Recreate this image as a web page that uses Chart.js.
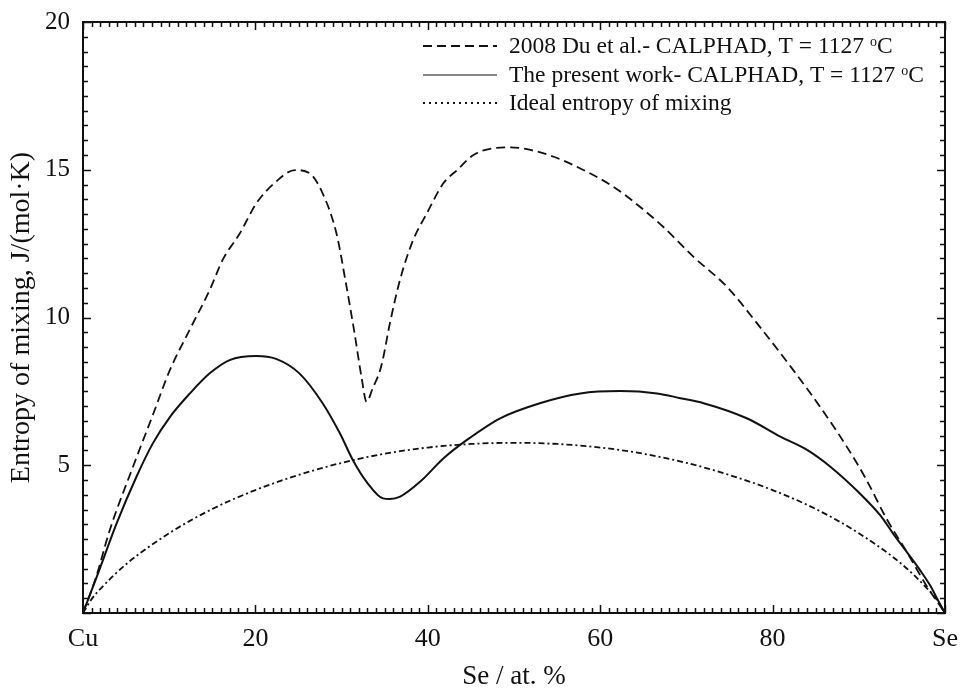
<!DOCTYPE html>
<html>
<head>
<meta charset="utf-8">
<script src="https://cdn.jsdelivr.net/npm/chart.js@4"></script>
<style>
  html, body { margin: 0; padding: 0; background: #fff; }
  #wrap { width: 960px; height: 689px; }
</style>
</head>
<body>
<div id="wrap"><canvas id="entropyChart" width="960" height="689"></canvas></div>
<script>
// values (x = Se at.%, y = J/(mol K))
const duX = [0, 1.5, 3.1, 5.8, 8.1, 10.05, 12.4, 14.7, 16.2, 18.2, 20.1, 22.4, 24.6, 26.3, 27.8, 29.4, 30.5, 31.5, 32.3, 32.9, 33.6, 34.45, 34.8, 35.6, 36.8, 38.3, 39.9, 41.8, 43.4, 45.3, 47.6, 49.5, 51.9, 54.6, 58.4, 61.5, 64.6, 67.3, 70.8, 74.7, 78.5, 82.4, 85.5, 88.6, 90.9, 93.2, 95.6, 97.9, 100];
const duY = [0, 1.2, 2.8, 4.95, 6.7, 8.2, 9.6, 10.93, 11.95, 12.85, 13.86, 14.6, 14.99, 14.88, 14.2, 12.85, 11.16, 9.47, 8.0, 7.15, 7.6, 8.2, 8.6, 9.8, 11.3, 12.62, 13.53, 14.54, 14.99, 15.5, 15.73, 15.76, 15.67, 15.44, 14.94, 14.43, 13.75, 13.07, 12.06, 11.04, 9.69, 8.22, 6.98, 5.63, 4.5, 3.2, 2.05, 0.9, 0];

const workX = [0, 1.9, 3.9, 6.2, 8.1, 10.1, 12.4, 14.7, 17.0, 20.1, 22.4, 25.1, 27.8, 29.8, 31.3, 32.9, 34.8, 35.6, 36.8, 39.1, 41.8, 44.5, 48.4, 53.0, 57.7, 62.3, 66.6, 69.3, 72.0, 77.0, 80.9, 84.0, 86.7, 90.1, 92.5, 94.0, 95.6, 97.1, 98.3, 99.2, 100];
const workY = [0, 1.46, 3.03, 4.61, 5.74, 6.64, 7.43, 8.11, 8.56, 8.70, 8.6, 8.11, 7.10, 6.08, 5.18, 4.44, 3.88, 3.86, 3.94, 4.44, 5.23, 5.85, 6.59, 7.10, 7.43, 7.51, 7.43, 7.27, 7.10, 6.59, 5.97, 5.52, 4.95, 4.05, 3.3, 2.68, 2.05, 1.45, 0.92, 0.42, 0];

const idealX = [0, 1, 2, 5, 10, 15, 20, 25, 30, 35, 40, 45, 50, 55, 60, 65, 70, 75, 80, 85, 90, 95, 98, 99, 100];
const idealY = [0, 0.47, 0.81, 1.65, 2.70, 3.52, 4.16, 4.67, 5.08, 5.39, 5.60, 5.72, 5.76, 5.72, 5.60, 5.39, 5.08, 4.67, 4.16, 3.52, 2.70, 1.65, 0.81, 0.47, 0];

const xTickValues = [0, 20, 40, 60, 80, 100];
const xTickLabels = ['Cu', '20', '40', '60', '80', 'Se'];
const yTickValues = [5, 10, 15, 20];

const legendLabels = [
  '2008 Du et al.- CALPHAD, T = 1127 ',
  'The present work- CALPHAD, T = 1127 ',
  'Ideal entropy of mixing'
];

const serif = '"Liberation Serif", "Times New Roman", serif';
const ink = '#111';

function zip(xs, ys) {
  return xs.map((x, i) => ({ x: x, y: ys[i] }));
}

// frame + inward ticks on all four sides, legend drawn inside the plot
const framePlugin = {
  id: 'frameTicks',
  afterDraw(chart) {
    const { ctx, chartArea: a, scales } = chart;
    const xs = scales.x, ys = scales.y;
    ctx.save();
    ctx.strokeStyle = ink;
    ctx.lineWidth = 1.5;
    for (let v = 0; v <= 100; v++) {
      const px = Math.round(xs.getPixelForValue(v)) + 0.5;
      const len = (v % 20 === 0) ? 8 : 5;
      ctx.beginPath();
      ctx.moveTo(px, a.bottom); ctx.lineTo(px, a.bottom - len);
      ctx.moveTo(px, a.top); ctx.lineTo(px, a.top + len);
      ctx.stroke();
    }
    for (let v = 0; v <= 20; v += 0.5) {
      const py = Math.round(ys.getPixelForValue(v)) + 0.5;
      const len = (v % 5 === 0) ? 8 : 5;
      ctx.beginPath();
      ctx.moveTo(a.left, py); ctx.lineTo(a.left + len, py);
      ctx.moveTo(a.right, py); ctx.lineTo(a.right - len, py);
      ctx.stroke();
    }
    ctx.lineWidth = 2;
    ctx.strokeRect(a.left, a.top, a.right - a.left, a.bottom - a.top);

    const rows = [
      { y: 46, dash: [9, 5], lbl: legendLabels[0], sup: true },
      { y: 75, dash: [], lbl: legendLabels[1], sup: true },
      { y: 103, dash: [2, 4], lbl: legendLabels[2], sup: false }
    ];
    ctx.textBaseline = 'middle';
    ctx.fillStyle = ink;
    rows.forEach(r => {
      ctx.setLineDash(r.dash);
      ctx.lineWidth = r.dash.length ? 1.8 : 1.2;
      ctx.beginPath();
      ctx.moveTo(423, r.y); ctx.lineTo(497, r.y);
      ctx.stroke();
      ctx.setLineDash([]);
      ctx.font = '23.5px ' + serif;
      ctx.fillText(r.lbl, 509, r.y + 1);
      if (r.sup) {
        let w = ctx.measureText(r.lbl).width;
        ctx.font = '14px ' + serif;
        ctx.fillText('o', 509 + w, r.y - 4);
        w += ctx.measureText('o').width;
        ctx.font = '23.5px ' + serif;
        ctx.fillText('C', 509 + w, r.y + 1);
      }
    });
    ctx.restore();
  }
};

const lineCommon = {
  pointRadius: 0,
  borderColor: ink,
  backgroundColor: ink,
  fill: false,
  cubicInterpolationMode: 'monotone'
};

new Chart(document.getElementById('entropyChart').getContext('2d'), {
  type: 'line',
  data: {
    datasets: [
      Object.assign({ label: legendLabels[0], data: zip(duX, duY), borderDash: [9, 5], borderWidth: 1.8 }, lineCommon),
      Object.assign({ label: legendLabels[1], data: zip(workX, workY), borderWidth: 2 }, lineCommon),
      Object.assign({ label: legendLabels[2], data: zip(idealX, idealY), borderDash: [6, 3, 2, 3], borderWidth: 1.8 }, lineCommon)
    ]
  },
  options: {
    responsive: false,
    animation: false,
    layout: { padding: { top: 22, right: 15, left: 0, bottom: 0 } },
    plugins: { legend: { display: false }, tooltip: { enabled: false } },
    scales: {
      x: {
        type: 'linear',
        min: 0, max: 100,
        afterFit(s) { s.height = 76; s.paddingLeft = 0; s.paddingRight = 0; },
        afterBuildTicks(s) { s.ticks = xTickValues.map(v => ({ value: v })); },
        grid: { display: false, drawTicks: false },
        border: { display: false },
        ticks: {
          maxRotation: 0,
          autoSkip: false,
          padding: 11,
          color: ink,
          font: { family: serif, size: 26 },
          callback: v => xTickLabels[xTickValues.indexOf(v)]
        },
        title: {
          display: true,
          text: 'Se / at. %',
          color: ink,
          font: { family: serif, size: 27 },
          padding: { top: 0, bottom: -4 }
        }
      },
      y: {
        min: 0, max: 20,
        afterFit(s) { s.width = 83; s.paddingTop = 0; s.paddingBottom = 0; },
        afterBuildTicks(s) { s.ticks = yTickValues.map(v => ({ value: v })); },
        grid: { display: false, drawTicks: false },
        border: { display: false },
        ticks: {
          padding: 13,
          color: ink,
          font: { family: serif, size: 25 }
        },
        title: {
          display: true,
          text: 'Entropy of mixing, J/(mol·K)',
          color: ink,
          font: { family: serif, size: 28 },
          padding: { top: 5, bottom: 0 }
        }
      }
    }
  },
  plugins: [framePlugin]
});
</script>
</body>
</html>
